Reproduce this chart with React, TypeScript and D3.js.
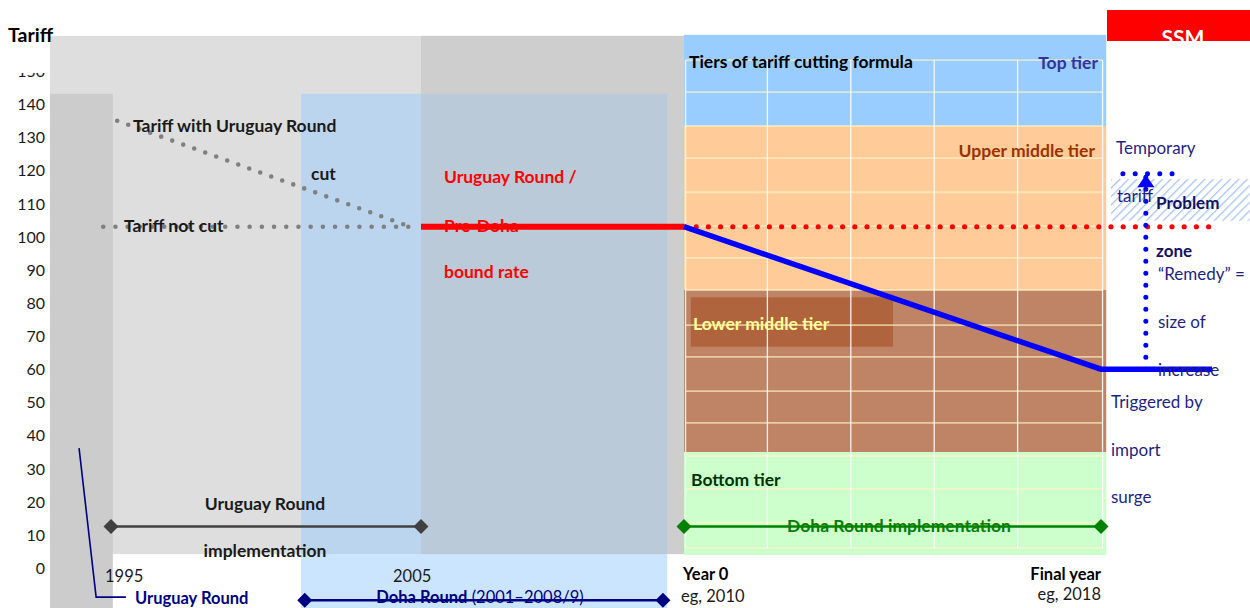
import React from 'react';
import * as d3 from 'd3';

type Pt = { year: number; tariff: number };

// ---------- data ----------
const yTickValues = [0, 10, 20, 30, 40, 50, 60, 70, 80, 90, 100, 110, 120, 130, 140, 150];
const anchorYears = [1995, 2005, 2010, 2018];

const tariffWithURCut: Pt[] = [{ year: 1995.2, tariff: 135 }, { year: 2004.65, tariff: 103 }];
const tariffNotCut: Pt[] = [{ year: 1994.75, tariff: 103 }, { year: 2004.65, tariff: 103 }];
const boundRate: Pt[] = [{ year: 2005, tariff: 103 }, { year: 2010, tariff: 103 }];
const boundRateExtended: Pt[] = [{ year: 2010, tariff: 103 }, { year: 2020.13, tariff: 103 }];
const dohaCutTariff: Pt[] = [{ year: 2010, tariff: 103 }, { year: 2018, tariff: 60 }, { year: 2020.13, tariff: 60 }];
const ssmRemedy: Pt[] = [{ year: 2018.86, tariff: 60 }, { year: 2018.86, tariff: 119 }];
const ssmCap: Pt[] = [{ year: 2018.42, tariff: 119 }, { year: 2019.38, tariff: 119 }];
const urCallout: Pt[] = [{ year: 1993.97, tariff: 36.2 }, { year: 1994.52, tariff: -8.8 }, { year: 1995.48, tariff: -8.8 }];

const urImplementation = { start: 1995, end: 2005, level: 12.5 };
const dohaImplementation = { start: 2010, end: 2018, level: 12.5 };
const dohaRoundPeriod = { start: 2001.25, end: 2009.6, level: -9.7 };

const tiers = [
  { name: 'Top tier', top: 160.9, bottom: 133.4, color: '#99ccff' },
  { name: 'Upper middle tier', top: 133.4, bottom: 83.9, color: '#fecb99' },
  { name: 'Lower middle tier', top: 83.9, bottom: 35, color: '#bf8366' },
  { name: 'Bottom tier', top: 35, bottom: 3.9, color: '#ccffcc' },
];
const tierPanel = { start: 2010, end: 2018.1 };
const tierGridValues = [153.3, 143.6, 133.4, 123.7, 113.4, 103.2, 93.6, 83.9, 73.3, 63.7, 53.4, 43.8, 33.8, 23.8, 13.7, 6];
const tierGridYears = [2010.03, 2011.6, 2013.2, 2014.8, 2016.4, 2018.03];

const periods = {
  urGray: { start: 1993.03, end: 2010, top: 160.6, bottom: 4.2 },
  preDohaGray: { start: 2005, end: 2010, top: 160.6, bottom: 4.2 },
  preDohaOverlap: { start: 2005, end: 2009.68, top: 143.1, bottom: 4.2 },
  urStrip: { start: 1993.03, end: 1995.06, top: 143.1, bottom: -12.2 },
  dohaBlue: { start: 2001.13, end: 2009.68, top: 143.1, bottom: -12.2 },
  problemZone: { start: 2018.19, end: 2020.85, top: 117.4, bottom: 104.8 },
  lowerLabelBox: { start: 2010.13, end: 2014.01, top: 81.7, bottom: 66.8 },
};

const FONT = 'Lato, "Open Sans", sans-serif';

export default function App() {
  const x = d3.scaleLinear().domain(anchorYears).range([111, 421, 684, 1101]);
  const y = d3.scaleLinear().domain([0, 150]).range([568, 71]);
  const line = d3.line<Pt>().x(d => x(d.year)).y(d => y(d.tariff));

  const rect = (p: { start: number; end: number; top: number; bottom: number }) => ({
    x: x(p.start),
    y: y(p.top),
    width: x(p.end) - x(p.start),
    height: y(p.bottom) - y(p.top),
  });
  const diamond = (cx: number, cy: number, r: number) =>
    `M${cx - r},${cy}L${cx},${cy - r}L${cx + r},${cy}L${cx},${cy + r}Z`;

  const dot = { strokeLinecap: 'round' as const, fill: 'none' };

  const tipX = x(ssmRemedy[1].year);
  const tipY = y(ssmRemedy[1].tariff) + 1;

  return (
    <svg width={1250} height={608} style={{ position: 'absolute', left: 0, top: 0, fontFamily: FONT }}>
      <defs>
        <pattern id="hatch" width="6" height="6" patternUnits="userSpaceOnUse" patternTransform="rotate(45)">
          <rect width="6" height="6" fill="#ffffff" />
          <line x1="0" y1="0" x2="0" y2="6" stroke="#a9c2f2" strokeWidth="2.6" />
        </pattern>
        <clipPath id="ssmClip">
          <rect x={1107} y={10} width={143} height={31} />
        </clipPath>
      </defs>
      <rect width={1250} height={608} fill="#ffffff" />

      {/* period backgrounds */}
      <rect {...rect(periods.urGray)} fill="#dedede" />
      <rect {...rect(periods.preDohaGray)} fill="#cecece" />
      <rect {...rect(periods.urStrip)} fill="#cccccc" />
      <rect {...rect(periods.dohaBlue)} fill="#99ccff" fillOpacity={0.5} />
      <rect {...rect(periods.preDohaOverlap)} fill="#c6c6c6" fillOpacity={0.4} />

      {/* tier panel */}
      {tiers.map(t => (
        <rect key={t.name} {...rect({ start: tierPanel.start, end: tierPanel.end, top: t.top, bottom: t.bottom })} fill={t.color} />
      ))}
      <rect {...rect(periods.lowerLabelBox)} fill="#b0643e" />
      {tierGridValues.map((v, i) => (
        <line key={'h' + i} x1={x(tierGridYears[0])} x2={x(tierGridYears[tierGridYears.length - 1])} y1={y(v)} y2={y(v)}
          stroke="#fff2c4" strokeOpacity={0.65} strokeWidth={1.8} />
      ))}
      {tierGridYears.map((yr, i) => (
        <line key={'v' + i} x1={x(yr)} x2={x(yr)} y1={y(tierGridValues[0])} y2={y(tierGridValues[tierGridValues.length - 1])}
          stroke="#ffffff" strokeOpacity={0.9} strokeWidth={1.3} />
      ))}

      {/* SSM problem zone */}
      <rect {...rect(periods.problemZone)} fill="url(#hatch)" />

      {/* y axis labels */}
      {yTickValues.map(v => (
        <text key={v} x={45} y={y(v) + 6} textAnchor="end" fontSize={16} fill="#1a1a1a">{v}</text>
      ))}
      <rect x={0} y={0} width={49} height={73} fill="#ffffff" />
      <text x={8} y={42} fontSize={19.5} fontWeight="bold" fill="#000">Tariff</text>

      {/* tariff lines */}
      <path d={line(tariffWithURCut) ?? ''} stroke="#808080" strokeWidth={4.6} strokeDasharray="0 11.7" {...dot} />
      <path d={line(tariffNotCut) ?? ''} stroke="#808080" strokeWidth={4.6} strokeDasharray="0 12.2" {...dot} />
      <path d={line(boundRate) ?? ''} stroke="#ff0000" strokeWidth={6} fill="none" />
      <path d={line(boundRateExtended) ?? ''} stroke="#ff0000" strokeWidth={5.2} strokeDasharray="0 12.2" {...dot}
        strokeDashoffset={-12.2} />
      <path d={line(dohaCutTariff) ?? ''} stroke="#0000ff" strokeWidth={5.5} fill="none" />

      {/* SSM remedy */}
      <path d={line(ssmRemedy) ?? ''} stroke="#0000ff" strokeWidth={5} strokeDasharray="0 12" {...dot} />
      <path d={line(ssmCap) ?? ''} stroke="#0000ff" strokeWidth={5} strokeDasharray="0 12.3" {...dot} />
      <path d={`M${tipX},${tipY}L${tipX + 8.5},${tipY + 12.5}L${tipX - 8.5},${tipY + 12.5}Z`} fill="#0000ff" />

      {/* implementation periods */}
      <line x1={x(urImplementation.start)} x2={x(urImplementation.end)} y1={y(urImplementation.level)} y2={y(urImplementation.level)}
        stroke="#404040" strokeWidth={2.5} />
      <path d={diamond(x(urImplementation.start), y(urImplementation.level), 7.5)} fill="#404040" />
      <path d={diamond(x(urImplementation.end), y(urImplementation.level), 7.5)} fill="#404040" />

      <line x1={x(dohaImplementation.start)} x2={x(dohaImplementation.end)} y1={y(dohaImplementation.level)} y2={y(dohaImplementation.level)}
        stroke="#008000" strokeWidth={2.5} />
      <path d={diamond(x(dohaImplementation.start), y(dohaImplementation.level), 7.5)} fill="#008000" />
      <path d={diamond(x(dohaImplementation.end), y(dohaImplementation.level), 7.5)} fill="#008000" />

      <line x1={x(dohaRoundPeriod.start)} x2={x(dohaRoundPeriod.end)} y1={y(dohaRoundPeriod.level)} y2={y(dohaRoundPeriod.level)}
        stroke="#000080" strokeWidth={2.5} />
      <path d={diamond(x(dohaRoundPeriod.start), y(dohaRoundPeriod.level), 7.5)} fill="#000080" />
      <path d={diamond(x(dohaRoundPeriod.end), y(dohaRoundPeriod.level), 7.5)} fill="#000080" />

      {/* Uruguay Round callout */}
      <path d={line(urCallout) ?? ''} stroke="#000080" strokeWidth={1.6} fill="none" />

      {/* annotations */}
      <g fontSize={17.5} fontWeight="bold" fill="#1a1a1a">
        <text x={133} y={132}>Tariff with Uruguay Round</text>
        <text x={311} y={180}>cut</text>
        <text x={124} y={232}>Tariff not cut</text>
        <text x={265} y={510} textAnchor="middle">Uruguay Round</text>
        <text x={265} y={557} textAnchor="middle">implementation</text>
      </g>
      <g fontSize={17.5} fontWeight="bold" fill="#ff0000">
        <text x={444} y={183}>Uruguay Round /</text>
        <text x={444} y={232}>Pre-Doha</text>
        <text x={444} y={278}>bound rate</text>
      </g>
      <g fontSize={17.5} fontWeight="bold">
        <text x={689} y={68} fill="#000">Tiers of tariff cutting formula</text>
        <text x={1098} y={69} textAnchor="end" fill="#333399">Top tier</text>
        <text x={1095} y={157} textAnchor="end" fill="#993300">Upper middle tier</text>
        <text x={693} y={330} fill="#ffff99">Lower middle tier</text>
        <text x={691} y={486} fill="#003300">Bottom tier</text>
        <text x={899} y={532} textAnchor="middle" fill="#008000">Doha Round implementation</text>
      </g>

      {/* x labels */}
      <g fontSize={16.5} fill="#1a1a1a">
        <text x={105} y={582}>1995</text>
        <text x={393} y={582}>2005</text>
        <text x={683} y={580} fontWeight="bold" fill="#000">Year 0</text>
        <text x={681} y={602}>eg, 2010</text>
        <text x={1101} y={580} textAnchor="end" fontWeight="bold" fill="#000">Final year</text>
        <text x={1101} y={600} textAnchor="end">eg, 2018</text>
      </g>
      <text x={135} y={604} fontSize={16.5} fontWeight="bold" fill="#000080">Uruguay Round</text>
      <text x={480} y={603} fontSize={16.5} textAnchor="middle" fill="#000080">
        <tspan fontWeight="bold">Doha Round</tspan> (2001–2008/9)
      </text>

      {/* SSM */}
      <rect x={1107} y={10} width={143} height={31} fill="#ff0000" />
      <text x={1183} y={45} fontSize={21} fontWeight="bold" fill="#ffffff" textAnchor="middle" clipPath="url(#ssmClip)">SSM</text>
      <g fontSize={17} fill="#1f1f80">
        <text x={1116} y={154}>Temporary</text>
        <text x={1117} y={202}>tariff</text>
        <text x={1156} y={209} fontWeight="bold" fill="#12125e">Problem</text>
        <text x={1156} y={257} fontWeight="bold" fill="#12125e">zone</text>
        <text x={1158} y={280}>“Remedy” =</text>
        <text x={1158} y={328}>size of</text>
        <text x={1158} y={376}>increase</text>
        <text x={1111} y={408}>Triggered by</text>
        <text x={1111} y={456}>import</text>
        <text x={1111} y={503}>surge</text>
      </g>
    </svg>
  );
}
